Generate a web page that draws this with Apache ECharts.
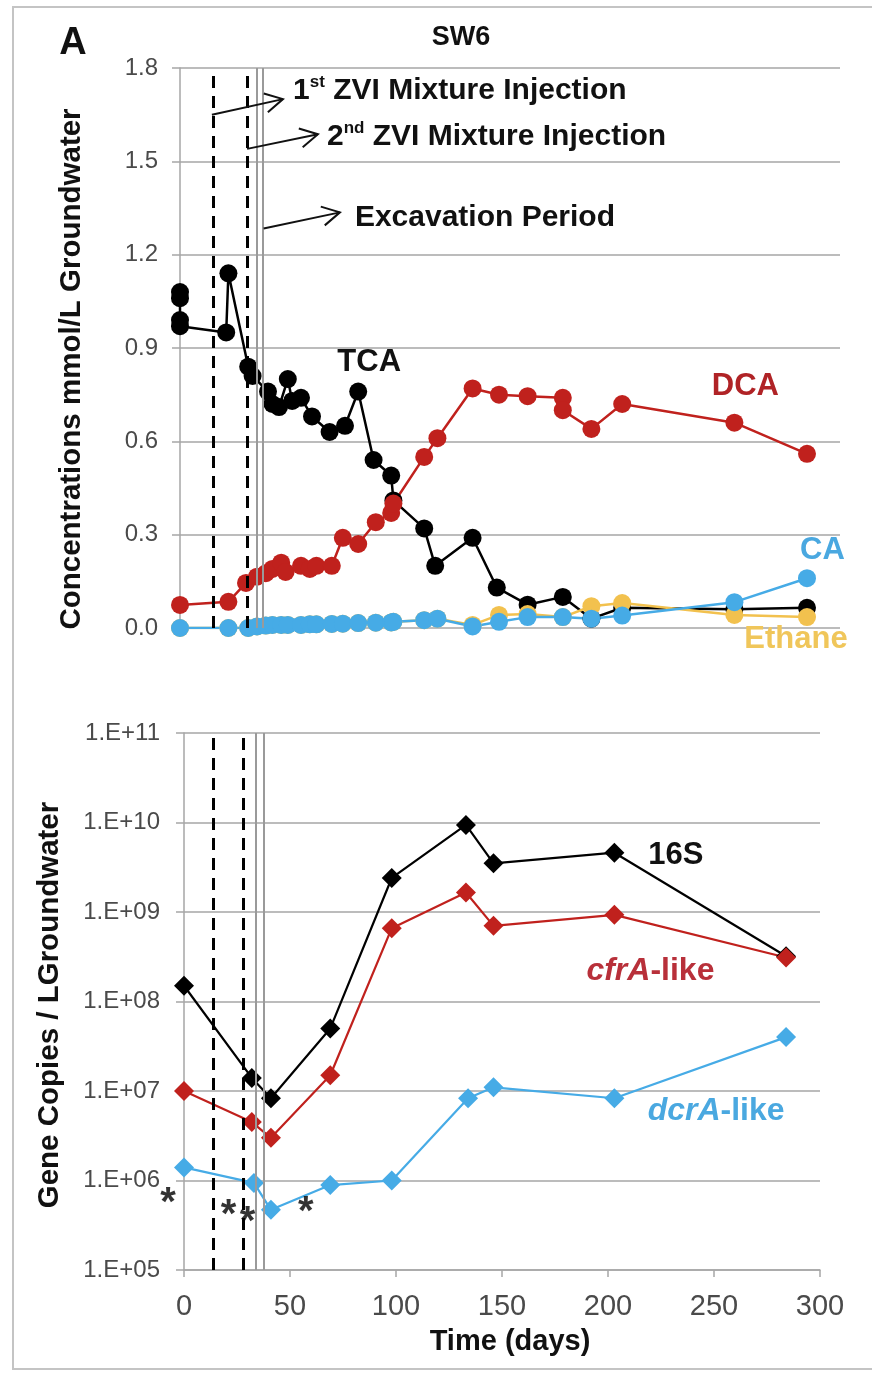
<!DOCTYPE html>
<html>
<head>
<meta charset="utf-8">
<script src="https://cdn.jsdelivr.net/npm/echarts@6/dist/echarts.min.js"></script>
<style>
  html, body { margin: 0; padding: 0; background: #ffffff; }
  #chart { width: 872px; height: 1373px; }
</style>
</head>
<body>
<div id="chart"></div>
<script>
// ---- Panel A (top): concentrations in SW6, mmol/L ----
const tcaDays = [0, 0, 0, 0, 21, 22, 31, 33, 40, 42, 45, 49, 51, 55, 60, 68, 75, 81, 88, 96, 97, 111, 116, 133, 144, 158, 174, 187, 201, 252, 285];
const tcaVals = [1.08, 1.06, 0.99, 0.97, 0.95, 1.14, 0.84, 0.81, 0.76, 0.72, 0.71, 0.80, 0.73, 0.74, 0.68, 0.63, 0.65, 0.76, 0.54, 0.49, 0.41, 0.32, 0.20, 0.29, 0.13, 0.075, 0.10, 0.03, 0.065, 0.06, 0.065];

const dcaDays = [0, 22, 30, 35, 39, 42, 46, 48, 55, 59, 62, 69, 74, 81, 89, 96, 97, 111, 117, 133, 145, 158, 174, 174, 187, 201, 252, 285];
const dcaVals = [0.074, 0.084, 0.145, 0.165, 0.176, 0.19, 0.21, 0.18, 0.20, 0.19, 0.20, 0.20, 0.29, 0.27, 0.34, 0.37, 0.40, 0.55, 0.61, 0.77, 0.75, 0.745, 0.74, 0.70, 0.64, 0.72, 0.66, 0.56];

const minorDays = [0, 22, 31, 35, 39, 42, 46, 49, 55, 59, 62, 69, 74, 81, 89, 96, 97, 111, 117, 133, 145, 158, 174, 187, 201, 252, 285];
const caVals = [0.0, 0.0, 0.0, 0.005, 0.008, 0.01, 0.01, 0.01, 0.01, 0.012, 0.012, 0.013, 0.014, 0.016, 0.017, 0.018, 0.02, 0.025, 0.03, 0.005, 0.02, 0.035, 0.035, 0.03, 0.04, 0.083, 0.16];
const ethaneVals = [0.0, 0.0, 0.0, 0.005, 0.008, 0.01, 0.01, 0.01, 0.01, 0.012, 0.012, 0.013, 0.014, 0.016, 0.017, 0.018, 0.02, 0.025, 0.03, 0.01, 0.042, 0.045, 0.035, 0.07, 0.08, 0.042, 0.035];

const concTicks = { min: 0, max: 1.8, interval: 0.3 };

// ---- Panel A (bottom): gene copies per litre of groundwater ----
const geneDays = [0, 32, 41, 69, 98, 133, 146, 203, 284];
const dcrDays = [0, 33, 41, 69, 98, 134, 146, 203, 284];
const s16Vals = [1.5e8, 1.4e7, 8.3e6, 5.0e7, 2.4e9, 9.4e9, 3.5e9, 4.6e9, 3.2e8];
const cfrVals = [1.0e7, 4.5e6, 3.0e6, 1.5e7, 6.6e8, 1.65e9, 7.0e8, 9.3e8, 3.1e8];
const dcrVals = [1.4e6, 9.4e5, 4.7e5, 8.9e5, 1.0e6, 8.3e6, 1.1e7, 8.3e6, 4.0e7];
const starPoints = [[-7.5, 7.2e5], [21, 5.3e5], [30, 4.4e5], [57.5, 5.7e5]];

// ---- event lines (days) ----
const injectionDaysTop = [15, 30.5];
const excavationDaysTop = [35, 37.7];
const injectionDaysBottom = [14, 28];
const excavationDaysBottom = [33.8, 37.5];

const FONT = '"Liberation Sans", Arial, sans-serif';
const C_BLACK = '#000000';
const C_RED = '#c0211d';
const C_BLUE = '#46abe6';
const C_GOLD = '#f2c14e';
const GRID_GRAY = '#a6a6a6';
const TICK_GRAY = '#4a4a4a';

function pairs(xs, ys) { return xs.map((x, i) => [x, ys[i]]); }

function eventLines(injDays, excDays) {
  return {
    silent: true,
    symbol: 'none',
    label: { show: false },
    animation: false,
    data: injDays.map(d => ({ xAxis: d, lineStyle: { color: '#000', width: 3, type: [12, 8] } }))
      .concat(excDays.map(d => ({ xAxis: d, lineStyle: { color: '#9a9a9a', width: 2, type: 'solid' } })))
  };
}

function concSeries(name, data, color, size) {
  return {
    name, type: 'line', xAxisIndex: 0, yAxisIndex: 0, data,
    symbol: 'circle', symbolSize: size, showSymbol: true,
    lineStyle: { color, width: 2.5 }, itemStyle: { color },
    animation: false
  };
}

function geneSeries(name, data, color) {
  return {
    name, type: 'line', xAxisIndex: 1, yAxisIndex: 1, data,
    symbol: 'diamond', symbolSize: 20,
    lineStyle: { color, width: 2.2 }, itemStyle: { color },
    animation: false
  };
}

const option = {
  backgroundColor: '#ffffff',
  animation: false,
  grid: [
    { left: 180, top: 68, width: 660, height: 560 },
    { left: 184, top: 733, width: 636, height: 537 }
  ],
  xAxis: [
    {
      gridIndex: 0, type: 'value', min: 0, max: 300, interval: 50,
      axisLine: { show: false }, axisTick: { show: false }, axisLabel: { show: false },
      splitLine: { show: false }
    },
    {
      gridIndex: 1, type: 'value', min: 0, max: 300, interval: 50,
      axisLine: { show: true, lineStyle: { color: GRID_GRAY, width: 1.5 } },
      axisTick: { show: true, length: 7, lineStyle: { color: GRID_GRAY, width: 1.5 } },
      axisLabel: { color: TICK_GRAY, fontSize: 29, fontFamily: FONT, margin: 22 },
      splitLine: { show: false }
    }
  ],
  yAxis: [
    {
      gridIndex: 0, type: 'value', min: concTicks.min, max: concTicks.max, interval: concTicks.interval,
      axisLine: { show: true, lineStyle: { color: GRID_GRAY, width: 1.5 } },
      axisTick: { show: true, length: 8, lineStyle: { color: GRID_GRAY, width: 1.5 } },
      axisLabel: { color: TICK_GRAY, fontSize: 24, fontFamily: FONT, margin: 22, formatter: v => v.toFixed(1) },
      splitLine: { show: true, lineStyle: { color: GRID_GRAY, width: 1.5 } }
    },
    {
      gridIndex: 1, type: 'log', logBase: 10, min: 1e5, max: 1e11,
      axisLine: { show: true, lineStyle: { color: GRID_GRAY, width: 1.5 } },
      axisTick: { show: true, length: 8, lineStyle: { color: GRID_GRAY, width: 1.5 } },
      axisLabel: {
        color: TICK_GRAY, fontSize: 24, fontFamily: FONT, margin: 24,
        formatter: v => '1.E+' + String(Math.round(Math.log10(v))).padStart(2, '0')
      },
      splitLine: { show: true, lineStyle: { color: GRID_GRAY, width: 1.5 } }
    }
  ],
  series: [
    concSeries('TCA', pairs(tcaDays, tcaVals), C_BLACK, 18),
    concSeries('DCA', pairs(dcaDays, dcaVals), C_RED, 18),
    concSeries('Ethane', pairs(minorDays, ethaneVals), C_GOLD, 18),
    concSeries('CA', pairs(minorDays, caVals), C_BLUE, 18),
    {
      name: 'eventsTop', type: 'line', xAxisIndex: 0, yAxisIndex: 0, data: [], z: 5,
      markLine: eventLines(injectionDaysTop, excavationDaysTop)
    },
    geneSeries('16S', pairs(geneDays, s16Vals), C_BLACK),
    geneSeries('cfrA-like', pairs(geneDays, cfrVals), C_RED),
    geneSeries('dcrA-like', pairs(dcrDays, dcrVals), C_BLUE),
    {
      name: 'eventsBottom', type: 'line', xAxisIndex: 1, yAxisIndex: 1, data: [], z: 5,
      markLine: eventLines(injectionDaysBottom, excavationDaysBottom)
    },
    {
      name: 'significance', type: 'scatter', xAxisIndex: 1, yAxisIndex: 1, data: starPoints,
      symbolSize: 1, itemStyle: { color: 'rgba(0,0,0,0)' }, clip: false, z: 6,
      label: {
        show: true, position: 'inside', formatter: '*', offset: [0, 11],
        color: '#000', fontSize: 40, fontWeight: 'bold', fontFamily: FONT
      }
    }
  ]
};

const chart = echarts.init(document.getElementById('chart'), null, { renderer: 'canvas' });
chart.setOption(option);

// ---- annotations placed in data coordinates ----
function toPx(gi, x, y) { return chart.convertToPixel({ gridIndex: gi }, [x, y]); }

function textEl(p, text, color, size, align, extra) {
  return Object.assign({
    type: 'text', x: p[0], y: p[1], z: 20,
    style: {
      text, fill: color, fontSize: size, fontWeight: 'bold', fontFamily: FONT,
      align: align || 'left', verticalAlign: 'middle',
      textAlign: align || 'left', textVerticalAlign: 'middle'
    }
  }, extra || {});
}

function arrowEls(a, b) {
  const dx = b[0] - a[0], dy = b[1] - a[1];
  const ang = Math.atan2(dy, dx);
  const len = 20, spread = 0.5;
  const h1 = [b[0] - len * Math.cos(ang - spread), b[1] - len * Math.sin(ang - spread)];
  const h2 = [b[0] - len * Math.cos(ang + spread), b[1] - len * Math.sin(ang + spread)];
  return [
    { type: 'polyline', z: 20, shape: { points: [a, b] }, style: { stroke: '#111', lineWidth: 2, fill: null } },
    { type: 'polyline', z: 20, shape: { points: [h1, b, h2] }, style: { stroke: '#111', lineWidth: 2, fill: null } }
  ];
}

const arrows = [
  [[14.5, 1.65], [46.8, 1.70]],
  [[30.5, 1.54], [62.7, 1.587]],
  [[38, 1.284], [72.7, 1.336]]
];
const noteAnchors = [[51.4, 1.727], [66.8, 1.58], [79.5, 1.32]];

const richNote = {
  n: { fontSize: 30, fontWeight: 'bold', fontFamily: FONT, fill: '#111', color: '#111', lineHeight: 34 },
  s: { fontSize: 17, fontWeight: 'bold', fontFamily: FONT, fill: '#111', color: '#111', lineHeight: 34, verticalAlign: 'top' }
};

const graphics = [];
arrows.forEach(a => graphics.push(...arrowEls(toPx(0, a[0][0], a[0][1]), toPx(0, a[1][0], a[1][1]))));

const notes = ['{n|1}{s|st}{n| ZVI Mixture Injection}', '{n|2}{s|nd}{n| ZVI Mixture Injection}', '{n|Excavation Period}'];
notes.forEach((t, i) => {
  const p = toPx(0, noteAnchors[i][0], noteAnchors[i][1]);
  graphics.push({
    type: 'text', x: p[0], y: p[1], z: 20,
    style: { text: t, rich: richNote, align: 'left', verticalAlign: 'middle', textAlign: 'left', textVerticalAlign: 'middle' }
  });
});

// series labels
graphics.push(textEl(toPx(0, 86, 0.855), 'TCA', '#111', 31, 'center'));
graphics.push(textEl(toPx(0, 257, 0.775), 'DCA', '#b02326', 31, 'center'));
graphics.push(textEl(toPx(0, 292, 0.25), 'CA', '#4aa8e0', 31, 'center'));
graphics.push(textEl(toPx(0, 280, -0.038), 'Ethane', '#f0c65a', 31, 'center'));

graphics.push(textEl(toPx(1, 232, 4.3e9), '16S', '#111', 31, 'center'));
const richGene = (col) => ({
  i: { fontSize: 32, fontWeight: 'bold', fontStyle: 'italic', fontFamily: FONT, fill: col, color: col },
  r: { fontSize: 32, fontWeight: 'bold', fontFamily: FONT, fill: col, color: col }
});
let gp = toPx(1, 220, 2.2e8);
graphics.push({ type: 'text', x: gp[0], y: gp[1], z: 20,
  style: { text: '{i|cfrA}{r|-like}', rich: richGene('#b8303a'), align: 'center', verticalAlign: 'middle', textAlign: 'center', textVerticalAlign: 'middle' } });
gp = toPx(1, 251, 6.0e6);
graphics.push({ type: 'text', x: gp[0], y: gp[1], z: 20,
  style: { text: '{i|dcrA}{r|-like}', rich: richGene('#4aa8e0'), align: 'center', verticalAlign: 'middle', textAlign: 'center', textVerticalAlign: 'middle' } });

// axis titles
graphics.push(textEl([72, 369], 'Concentrations mmol/L Groundwater', '#111', 29.5, 'center', { rotation: Math.PI / 2 }));
graphics.push(textEl([50, 1005], 'Gene Copies / LGroundwater', '#111', 29.5, 'center', { rotation: Math.PI / 2 }));
graphics.push(textEl([510, 1342], 'Time (days)', '#111', 29, 'center'));

// panel letter, well name, frame
graphics.push(textEl([73, 44], 'A', '#111', 38, 'center'));
graphics.push(textEl([461, 38], 'SW6', '#111', 27, 'center'));
graphics.push({ type: 'rect', z: 0, shape: { x: 13, y: 7, width: 870, height: 1362 },
  style: { stroke: '#c4c4c4', lineWidth: 2, fill: null } });

chart.setOption({ graphic: { elements: graphics } });
</script>
</body>
</html>
